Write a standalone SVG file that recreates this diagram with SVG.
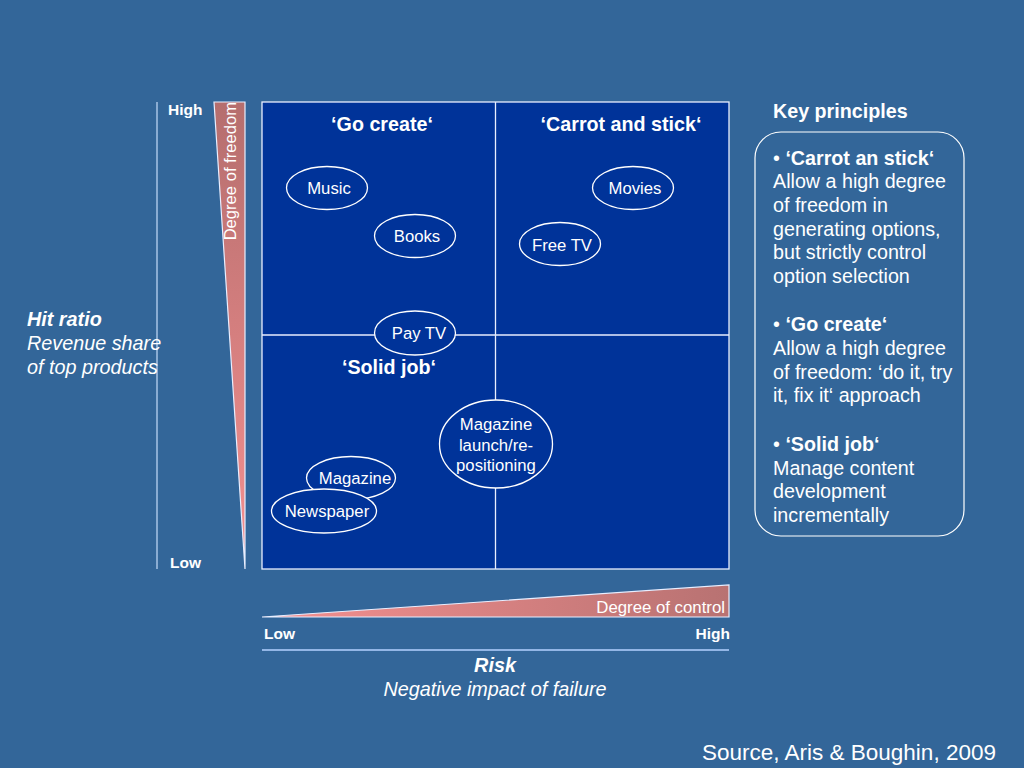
<svg xmlns="http://www.w3.org/2000/svg" width="1024" height="768" viewBox="0 0 1024 768">
<defs>
<linearGradient id="gv" x1="0" y1="0" x2="0" y2="1"><stop offset="0" stop-color="#b56e6e"/><stop offset="1" stop-color="#f59090"/></linearGradient>
<linearGradient id="gh" x1="0" y1="0" x2="1" y2="0"><stop offset="0" stop-color="#f59090"/><stop offset="1" stop-color="#b87272"/></linearGradient>
<style>
text{font-family:"Liberation Sans",Arial,sans-serif;fill:#ffffff}
.node ellipse{fill:#003399;stroke:#ffffff;stroke-width:1.3}
.node text{font-size:16.7px;text-anchor:middle}
.q{font-size:19.7px;font-weight:bold;text-anchor:middle}
.hl{font-size:15.5px;font-weight:bold}
.kp{font-size:19.7px}
.b{font-weight:bold}
.ax{font-size:19.8px;font-style:italic}
</style>
</defs>
<rect width="1024" height="768" fill="#336699"/>
<rect x="262" y="102" width="467" height="467" fill="#003399" stroke="#e8eeff" stroke-width="1.3"/>
<g id="connectors" stroke="#e8eeff" stroke-width="1.3">
<line x1="495.5" y1="102" x2="495.5" y2="569"/>
<line x1="262" y1="335" x2="729" y2="335"/>
</g>
<line x1="157" y1="102" x2="157" y2="569" stroke="#a9c4e6" stroke-width="1.5"/>
<line x1="262" y1="650" x2="729" y2="650" stroke="#93b6e6" stroke-width="2"/>
<polygon points="214,102 245,102 245,569" fill="url(#gv)" stroke="#e8eeff" stroke-width="1.2"/>
<text transform="translate(236,102) rotate(-90)" text-anchor="end" font-size="16.6">Degree of freedom</text>
<polygon points="262,617 729,585 729,617" fill="url(#gh)" stroke="#e8eeff" stroke-width="1.2"/>
<text x="725" y="613" text-anchor="end" font-size="16.8">Degree of control</text>
<text class="hl" x="168" y="115">High</text>
<text class="hl" x="170" y="568">Low</text>
<text class="hl" x="264" y="639">Low</text>
<text class="hl" x="730" y="639" text-anchor="end">High</text>
<text class="ax" x="495" y="672" text-anchor="middle" font-weight="bold">Risk</text>
<text class="ax" x="495" y="696" text-anchor="middle">Negative impact of failure</text>
<text class="ax" x="27" y="326" font-weight="bold">Hit ratio</text>
<text class="ax" x="27" y="350">Revenue share</text>
<text class="ax" x="27" y="374">of top products</text>
<text class="q" x="382" y="131">‘Go create‘</text>
<text class="q" x="621" y="131">‘Carrot and stick‘</text>
<text class="q" x="389" y="374">‘Solid job‘</text>
<g id="n-music" class="node"><ellipse cx="327" cy="188" rx="40.5" ry="21.5"/><text x="329" y="194">Music</text></g>
<g id="n-books" class="node"><ellipse cx="415" cy="236" rx="40.5" ry="21.5"/><text x="417" y="242">Books</text></g>
<g id="n-movies" class="node"><ellipse cx="633" cy="188" rx="40.5" ry="21.5"/><text x="635" y="194">Movies</text></g>
<g id="n-freetv" class="node"><ellipse cx="560" cy="244" rx="40.5" ry="21.5"/><text x="562" y="251">Free TV</text></g>
<g id="n-paytv" class="node"><ellipse cx="415" cy="333" rx="40.5" ry="22"/><text x="419" y="339">Pay TV</text></g>
<g id="n-maglaunch" class="node"><ellipse cx="496" cy="444" rx="56.5" ry="44"/><text x="496" y="430">Magazine</text><text x="496" y="451">launch/re-</text><text x="496" y="471">positioning</text></g>
<g id="n-magazine" class="node"><ellipse cx="351" cy="478" rx="44.5" ry="21.5"/><text x="355" y="484">Magazine</text></g>
<g id="n-newspaper" class="node"><ellipse cx="324" cy="511" rx="52.5" ry="22"/><text x="327" y="517">Newspaper</text></g>
<text x="773" y="118" font-size="19.7" font-weight="bold">Key principles</text>
<rect x="755" y="132" width="209" height="404" rx="26" fill="none" stroke="#ffffff" stroke-width="1.2"/>
<g class="kp">
<text x="773" y="165"><tspan>• </tspan><tspan class="b">‘Carrot an stick‘</tspan></text>
<text x="773" y="188">Allow a high degree</text>
<text x="773" y="212">of freedom in</text>
<text x="773" y="236">generating options,</text>
<text x="773" y="259">but strictly control</text>
<text x="773" y="283">option selection</text>
<text x="773" y="331"><tspan>• </tspan><tspan class="b">‘Go create‘</tspan></text>
<text x="773" y="355">Allow a high degree</text>
<text x="773" y="379">of freedom: ‘do it, try</text>
<text x="773" y="402">it, fix it‘ approach</text>
<text x="773" y="451"><tspan>• </tspan><tspan class="b">‘Solid job‘</tspan></text>
<text x="773" y="475">Manage content</text>
<text x="773" y="498">development</text>
<text x="773" y="522">incrementally</text>
</g>
<text x="702" y="760" font-size="22.5">Source, Aris &amp; Boughin, 2009</text>
</svg>
